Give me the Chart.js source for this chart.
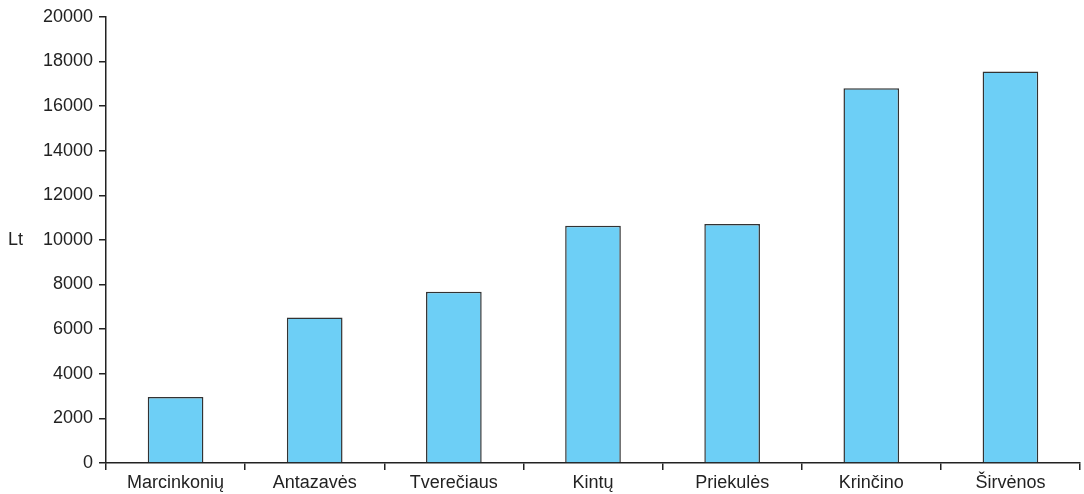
<!DOCTYPE html>
<html>
<head>
<meta charset="utf-8">
<script src="https://cdn.jsdelivr.net/npm/chart.js@4"></script>
<style>
  html, body { margin: 0; padding: 0; background: #fff; }
  #wrap { width: 1084px; height: 494px; }
</style>
</head>
<body>
<div id="wrap"><canvas id="ltChart" width="1084" height="494"></canvas></div>
<script>
// Data
const categories = ['Marcinkonių', 'Antazavės', 'Tverečiaus', 'Kintų', 'Priekulės', 'Krinčino', 'Širvėnos'];
const values = [2960, 6520, 7680, 10630, 10710, 16800, 17550];
const yTicks = [0, 2000, 4000, 6000, 8000, 10000, 12000, 14000, 16000, 18000, 20000];

const inkColor = '#222222';
const fontFamily = '"Liberation Sans", Arial, sans-serif';

// "Lt" unit label, drawn upright left of the axis
const unitLabel = {
    id: 'unitLabel',
    afterDraw(chart) {
        const ctx = chart.ctx;
        const y = chart.scales.y.getPixelForValue(10000);
        ctx.save();
        ctx.fillStyle = inkColor;
        ctx.font = '18px ' + fontFamily;
        ctx.textAlign = 'left';
        ctx.textBaseline = 'middle';
        ctx.fillText('Lt', 8, y);
        ctx.restore();
    }
};

const ctx = document.getElementById('ltChart').getContext('2d');
new Chart(ctx, {
    type: 'bar',
    data: {
        labels: categories,
        datasets: [{
            data: values,
            backgroundColor: '#6dcff6',
            borderColor: '#333333',
            borderWidth: 1.5,
            barPercentage: 0.4,
            categoryPercentage: 1.0,
        }]
    },
    plugins: [unitLabel],
    options: {
        responsive: false,
        animation: false,
        layout: { padding: { left: 0, right: 4, top: 15, bottom: 0 } },
        plugins: {
            legend: { display: false },
            tooltip: { enabled: false }
        },
        scales: {
            x: {
                offset: true,
                grid: {
                    offset: true,
                    drawOnChartArea: false,
                    drawTicks: true,
                    tickLength: 7,
                    color: inkColor,
                    lineWidth: 1.5
                },
                border: { display: true, color: inkColor, width: 1.5 },
                ticks: {
                    color: inkColor,
                    padding: 2,
                    maxRotation: 0,
                    font: { family: fontFamily, size: 18 }
                },
                afterFit(scale) { scale.height = 31; }
            },
            y: {
                min: 0,
                max: 20000,
                afterBuildTicks(scale) { scale.ticks = yTicks.map(v => ({ value: v })); },
                grid: {
                    drawOnChartArea: false,
                    drawTicks: true,
                    tickLength: 7,
                    color: inkColor,
                    lineWidth: 1.5
                },
                border: { display: true, color: inkColor, width: 1.5 },
                ticks: {
                    color: inkColor,
                    padding: 6,
                    font: { family: fontFamily, size: 18 },
                    callback: (v) => String(v)
                },
                afterFit(scale) { scale.width = 106; }
            }
        }
    }
});
</script>
</body>
</html>
